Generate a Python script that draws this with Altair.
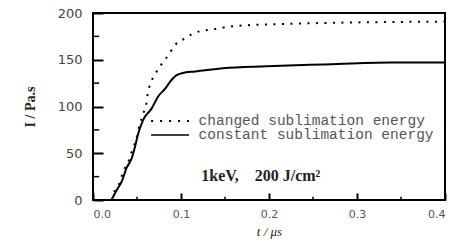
import altair as alt
import pandas as pd

# --- data ---
t_const = [0.021, 0.027, 0.0326, 0.038, 0.044, 0.0477, 0.0515, 0.057, 0.0667, 0.074,
           0.082, 0.0894, 0.095, 0.1045, 0.116, 0.148, 0.197, 0.262, 0.3375, 0.40]
I_const = [0, 10.7, 19.6, 34, 44.6, 57, 71.4, 85.7, 98, 110.7,
           119, 128.6, 133.5, 136.4, 137.5, 141, 143, 145, 147, 147]

t_changed = [0.021, 0.025, 0.0307, 0.0333, 0.037, 0.0413, 0.044, 0.047, 0.0497, 0.0515,
             0.0534, 0.056, 0.0583, 0.061, 0.062, 0.064, 0.0667, 0.0712, 0.077, 0.0826,
             0.0883, 0.0943, 0.105, 0.115, 0.139, 0.161, 0.209, 0.277, 0.33, 0.40]
I_changed = [0, 10.7, 19.6, 27.5, 35.7, 43.6, 51.8, 59, 67, 75,
             82, 89, 96, 105, 112.5, 121, 128, 135.7, 144, 151,
             159, 166.8, 173, 178.6, 183, 186, 188, 189.6, 190.3, 190.8]

series_labels = ["changed sublimation energy", "constant sublimation energy"]
legend_t = [0.066, 0.109, 0.12]
legend_I = [84.5, 69.5]
note_text = "1keV,\u00a0\u00a0\u00a0\u00a0200 J/cm\u00b2"
note_pos = [0.123, 25.5]

y_major = [0, 50, 100, 150, 200]
y_minor = [25, 75, 125, 175]
x_minor = [0.05, 0.15, 0.25, 0.35]
x_labels = [0.0, 0.1, 0.2, 0.3, 0.4]
# minor tick lengths expressed in data units
y_minor_len = 0.007   # along t
x_minor_len = 3.5     # along I

W, H = 352, 187

xs = alt.Scale(domain=[0, 0.4], nice=False)
ys = alt.Scale(domain=[0, 200], nice=False)

df_c = pd.DataFrame({"t": t_const, "I": I_const})
df_d = pd.DataFrame({"t": t_changed, "I": I_changed})

# axes pulled inside the frame by a negative offset so their ticks point inward
x_axis = alt.Axis(values=x_labels, format=".1f", domain=False, grid=False,
                  ticks=True, tickSize=7, tickWidth=2, tickColor="black", offset=-7,
                  labelFont="DejaVu Sans", labelFontSize=11, labelColor="#555",
                  labelPadding=8, title="t / \u03bcs", titleFont="Liberation Serif",
                  titleFontSize=13, titleFontStyle="italic", titleFontWeight="normal",
                  titleColor="#222", titlePadding=6)
y_axis = alt.Axis(values=y_major, domain=False, grid=False,
                  ticks=True, tickSize=10, tickWidth=2, tickColor="black", offset=-10,
                  labelFont="DejaVu Sans", labelFontSize=13, labelColor="#444",
                  labelPadding=11, title="I / Pa.s", titleFont="Liberation Serif",
                  titleFontSize=14, titleFontWeight="bold", titleColor="#222",
                  titlePadding=20)

solid = alt.Chart(df_c).mark_line(color="black", strokeWidth=2, interpolate="monotone").encode(
    x=alt.X("t:Q", scale=xs, axis=x_axis),
    y=alt.Y("I:Q", scale=ys, axis=y_axis),
)
dotted = alt.Chart(df_d).mark_line(color="black", strokeWidth=2, strokeDash=[2, 6.5],
                                   interpolate="monotone").encode(
    x=alt.X("t:Q", scale=xs), y=alt.Y("I:Q", scale=ys)
)

leg_dot_df = pd.DataFrame({"t": legend_t[:2], "I": [legend_I[0]] * 2})
leg_sol_df = pd.DataFrame({"t": legend_t[:2], "I": [legend_I[1]] * 2})
leg_dot = alt.Chart(leg_dot_df).mark_line(
    color="black", strokeWidth=2, strokeDash=[2, 7]).encode(
    x=alt.X("t:Q", scale=xs), y=alt.Y("I:Q", scale=ys))
leg_sol = alt.Chart(leg_sol_df).mark_line(
    color="black", strokeWidth=1.5).encode(
    x=alt.X("t:Q", scale=xs), y=alt.Y("I:Q", scale=ys))

leg_text = alt.Chart(pd.DataFrame({"t": [legend_t[2]] * 2, "I": legend_I, "s": series_labels})).mark_text(
    align="left", baseline="middle", font="Liberation Mono", fontSize=14.5, color="#555").encode(
    x=alt.X("t:Q", scale=xs), y=alt.Y("I:Q", scale=ys), text="s:N")

note = alt.Chart(pd.DataFrame({"t": [note_pos[0]], "I": [note_pos[1]], "s": [note_text]})).mark_text(
    align="left", baseline="middle", font="Liberation Serif", fontSize=16, fontWeight="bold",
    color="#222").encode(x=alt.X("t:Q", scale=xs), y=alt.Y("I:Q", scale=ys), text="s:N")

# minor inward ticks drawn as short line segments (one segment per id)
tick_rows = []
for v in y_minor:
    tick_rows += [("yn%s" % v, 0.0, v), ("yn%s" % v, y_minor_len, v)]
for v in x_minor:
    tick_rows += [("xn%s" % v, v, 0.0), ("xn%s" % v, v, x_minor_len)]
df_ticks = pd.DataFrame(tick_rows, columns=["id", "t", "I"])

ticks_minor = alt.Chart(df_ticks).mark_line(color="black", strokeWidth=1.5).encode(
    x=alt.X("t:Q", scale=xs), y=alt.Y("I:Q", scale=ys), detail="id:N")

chart = alt.layer(solid, dotted, leg_dot, leg_sol, ticks_minor, leg_text, note).properties(
    width=W, height=H,
    autosize=alt.AutoSizeParams(type="none"),
    padding={"left": 85, "top": 5, "right": 3, "bottom": 40},
    background="white",
).configure_view(stroke="black", strokeWidth=2)

chart.save("out.html", embed_options={"renderer": "svg", "actions": False})
